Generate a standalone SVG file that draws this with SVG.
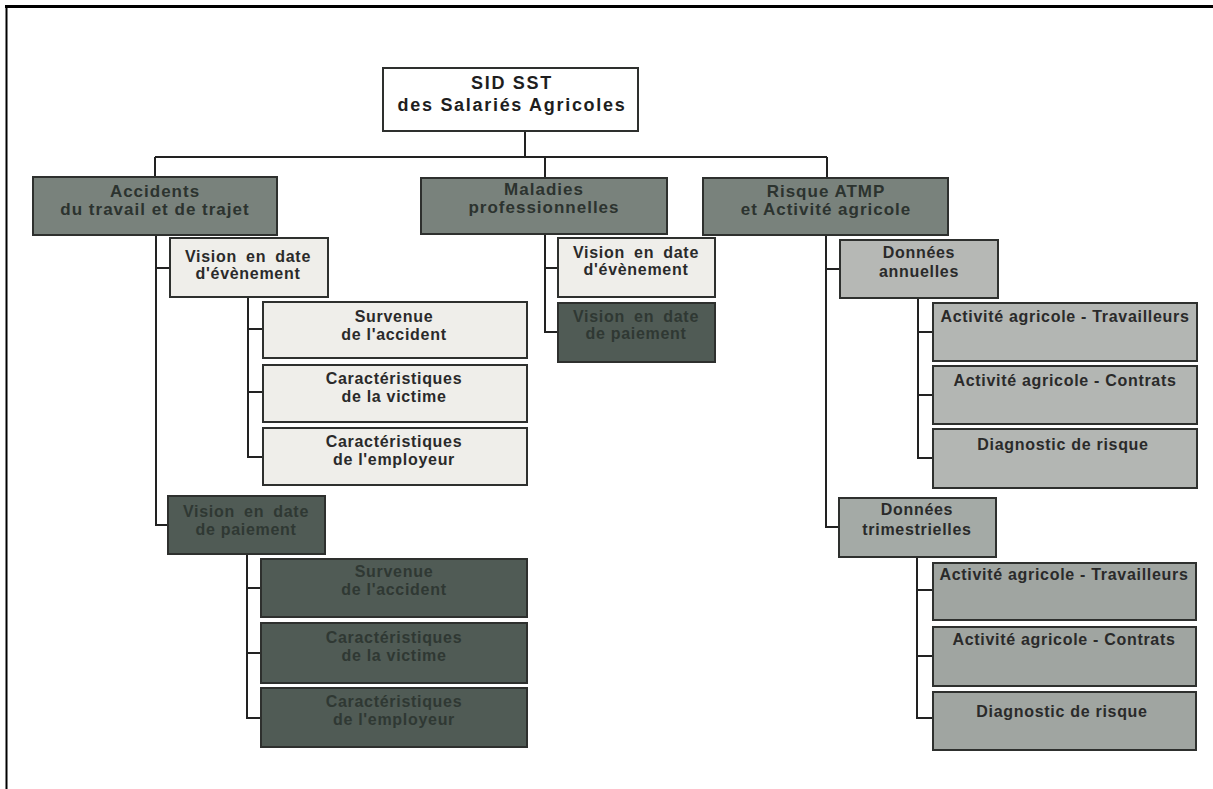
<svg xmlns="http://www.w3.org/2000/svg" width="1213" height="789" viewBox="0 0 1213 789">
  <style>
    .box { stroke: #2e302e; stroke-width: 2; }
    .white { fill: #ffffff; }
    .l1 { fill: #79827c; }
    .light { fill: #efeeea; }
    .dark { fill: #505b55; }
    .annu { fill: #b6b8b5; }
    .annusub { fill: #b3b6b3; }
    .trim { fill: #a4aaa6; }
    .trimsub { fill: #a0a5a1; }
    text { font-family: "Liberation Sans", Arial, sans-serif; font-weight: bold; text-anchor: middle; }
    .t0 { font-size: 18px; letter-spacing: 1.7px; fill: #1e1e1e; }
    .t1 { font-size: 17px; letter-spacing: 1px; fill: #2c332f; }
    .t2 { font-size: 16px; letter-spacing: 0.7px; fill: #2a2a2a; }
    .td { font-size: 16px; letter-spacing: 0.7px; fill: #2f3833; }
    .ws { word-spacing: 4px; }
    .conn { fill: none; stroke: #222; stroke-width: 2; }
    .frame { stroke: #000; fill: none; }
  </style>

  <rect x="0" y="0" width="1213" height="789" fill="#ffffff"/>
  <path class="frame" d="M5,6.5 H1213" stroke-width="3"/>
  <path class="frame" d="M6.5,5 V789" stroke-width="2"/>

  <g id="connectors">
    <path class="conn" d="M525,131 V157 M155,157 H827 M155,157 V177 M545,157 V178 M827,157 V178"/>
    <path class="conn" d="M156,235 V525 H168 M156,268 H170"/>
    <path class="conn" d="M248,297 V457 H263 M248,329 H263 M248,392 H263"/>
    <path class="conn" d="M247,554 V718 H261 M247,588 H261 M247,653 H261"/>
    <path class="conn" d="M545,234 V332 H558 M545,268 H558"/>
    <path class="conn" d="M826,235 V527 H839 M826,269 H840"/>
    <path class="conn" d="M918,298 V458 H933 M918,332 H933 M918,395 H933"/>
    <path class="conn" d="M917,557 V718 H933 M917,590 H933 M917,656 H933"/>
  </g>

  <g id="root">
    <rect class="box white" x="383" y="68" width="255" height="63"/>
    <text class="t0" x="512" y="89">SID SST</text>
    <text class="t0" x="512" y="111">des Salariés Agricoles</text>
  </g>

  <g id="accidents">
    <rect class="box l1" x="33" y="177" width="244" height="58"/>
    <text class="t1" x="155" y="197">Accidents</text>
    <text class="t1" x="155" y="215">du travail et de trajet</text>
  </g>
  <g id="maladies">
    <rect class="box l1" x="421" y="178" width="246" height="56"/>
    <text class="t1" x="544" y="195">Maladies</text>
    <text class="t1" x="544" y="213">professionnelles</text>
  </g>
  <g id="risque">
    <rect class="box l1" x="703" y="178" width="245" height="57"/>
    <text class="t1" x="826" y="197">Risque ATMP</text>
    <text class="t1" x="826" y="215">et Activité agricole</text>
  </g>

  <g id="at-vision-evenement">
    <rect class="box light" x="170" y="238" width="158" height="59"/>
    <text class="t2 ws" x="248" y="262">Vision en date</text>
    <text class="t2" x="248" y="279">d'évènement</text>
  </g>
  <g id="at-ev-survenue">
    <rect class="box light" x="263" y="302" width="264" height="56"/>
    <text class="t2" x="394" y="322">Survenue</text>
    <text class="t2" x="394" y="340">de l'accident</text>
  </g>
  <g id="at-ev-victime">
    <rect class="box light" x="263" y="365" width="264" height="57"/>
    <text class="t2" x="394" y="384">Caractéristiques</text>
    <text class="t2" x="394" y="402">de la victime</text>
  </g>
  <g id="at-ev-employeur">
    <rect class="box light" x="263" y="428" width="264" height="57"/>
    <text class="t2" x="394" y="447">Caractéristiques</text>
    <text class="t2" x="394" y="465">de l'employeur</text>
  </g>

  <g id="at-vision-paiement">
    <rect class="box dark" x="168" y="496" width="157" height="58"/>
    <text class="td ws" x="246" y="517">Vision en date</text>
    <text class="td" x="246" y="535">de paiement</text>
  </g>
  <g id="at-pa-survenue">
    <rect class="box dark" x="261" y="559" width="266" height="58"/>
    <text class="td" x="394" y="577">Survenue</text>
    <text class="td" x="394" y="595">de l'accident</text>
  </g>
  <g id="at-pa-victime">
    <rect class="box dark" x="261" y="623" width="266" height="60"/>
    <text class="td" x="394" y="643">Caractéristiques</text>
    <text class="td" x="394" y="661">de la victime</text>
  </g>
  <g id="at-pa-employeur">
    <rect class="box dark" x="261" y="688" width="266" height="59"/>
    <text class="td" x="394" y="707">Caractéristiques</text>
    <text class="td" x="394" y="725">de l'employeur</text>
  </g>

  <g id="mp-vision-evenement">
    <rect class="box light" x="558" y="238" width="157" height="59"/>
    <text class="t2 ws" x="636" y="258">Vision en date</text>
    <text class="t2" x="636" y="275">d'évènement</text>
  </g>
  <g id="mp-vision-paiement">
    <rect class="box dark" x="558" y="303" width="157" height="59"/>
    <text class="td ws" x="636" y="322">Vision en date</text>
    <text class="td" x="636" y="339">de paiement</text>
  </g>

  <g id="donnees-annuelles">
    <rect class="box annu" x="840" y="240" width="158" height="58"/>
    <text class="t2" x="919" y="258">Données</text>
    <text class="t2" x="919" y="277">annuelles</text>
  </g>
  <g id="an-travailleurs">
    <rect class="box annusub" x="933" y="303" width="264" height="58"/>
    <text class="t2" x="1065" y="322">Activité agricole - Travailleurs</text>
  </g>
  <g id="an-contrats">
    <rect class="box annusub" x="933" y="366" width="264" height="58"/>
    <text class="t2" x="1065" y="386">Activité agricole - Contrats</text>
  </g>
  <g id="an-diagnostic">
    <rect class="box annusub" x="933" y="429" width="264" height="59"/>
    <text class="t2" x="1063" y="450">Diagnostic de risque</text>
  </g>

  <g id="donnees-trimestrielles">
    <rect class="box trim" x="839" y="498" width="157" height="59"/>
    <text class="t2" x="917" y="515">Données</text>
    <text class="t2" x="917" y="535">trimestrielles</text>
  </g>
  <g id="tr-travailleurs">
    <rect class="box trimsub" x="933" y="563" width="263" height="57"/>
    <text class="t2" x="1064" y="580">Activité agricole - Travailleurs</text>
  </g>
  <g id="tr-contrats">
    <rect class="box trimsub" x="933" y="627" width="263" height="59"/>
    <text class="t2" x="1064" y="645">Activité agricole - Contrats</text>
  </g>
  <g id="tr-diagnostic">
    <rect class="box trimsub" x="933" y="692" width="263" height="58"/>
    <text class="t2" x="1062" y="717">Diagnostic de risque</text>
  </g>
</svg>
